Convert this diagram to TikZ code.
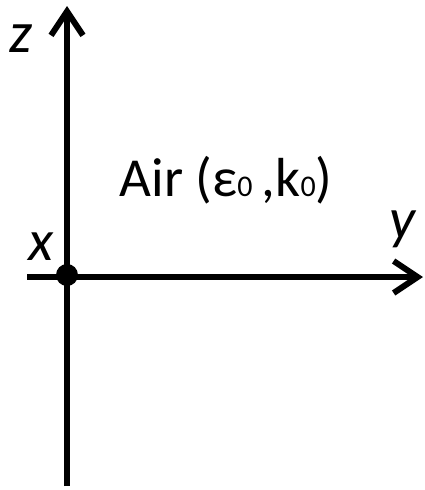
\documentclass[tikz,border=0pt]{standalone}
\usepackage{fontspec}
\setmainfont{Carlito}
\usetikzlibrary{positioning, arrows.meta}

\newcommand{\subzero}{{\fontsize{30}{30}\selectfont 0}}

\begin{document}
\begin{tikzpicture}[
    x=1pt, y=-1pt,
    >={Straight Barb[length=24pt, width=32pt]},
    axis/.style={line width=6pt, black},
    axislabel/.style={font=\fontsize{58}{64}\selectfont\itshape, inner sep=0pt, anchor=base},
]
\useasboundingbox (0,0) rectangle (425,490);

% ---- Axes ----
\coordinate (zbot) at (67,486);
\coordinate (ztop) at (67,6);
\coordinate (yleft) at (27,277);
\coordinate (yright) at (423,277);

\draw[axis, ->] (zbot) -- (ztop);
\draw[axis, ->] (yleft) -- (yright);

% origin dot
\node[circle, fill=black, minimum size=22pt, inner sep=0pt] (origin) at (67,275) {};

% ---- Axis labels ----
\node[axislabel] (zlabel) at (21,52)  {z};
\node[axislabel] (xlabel) at (41,260) {x};
\node[axislabel] (ylabel) at (402,238) {y};

% ---- Medium ----
\node[font=\fontsize{55}{62}\selectfont, inner sep=0pt, anchor=base] (air) at (226,196)
    {Air (ε\subzero\,,k\subzero)};

\end{tikzpicture}
\end{document}
